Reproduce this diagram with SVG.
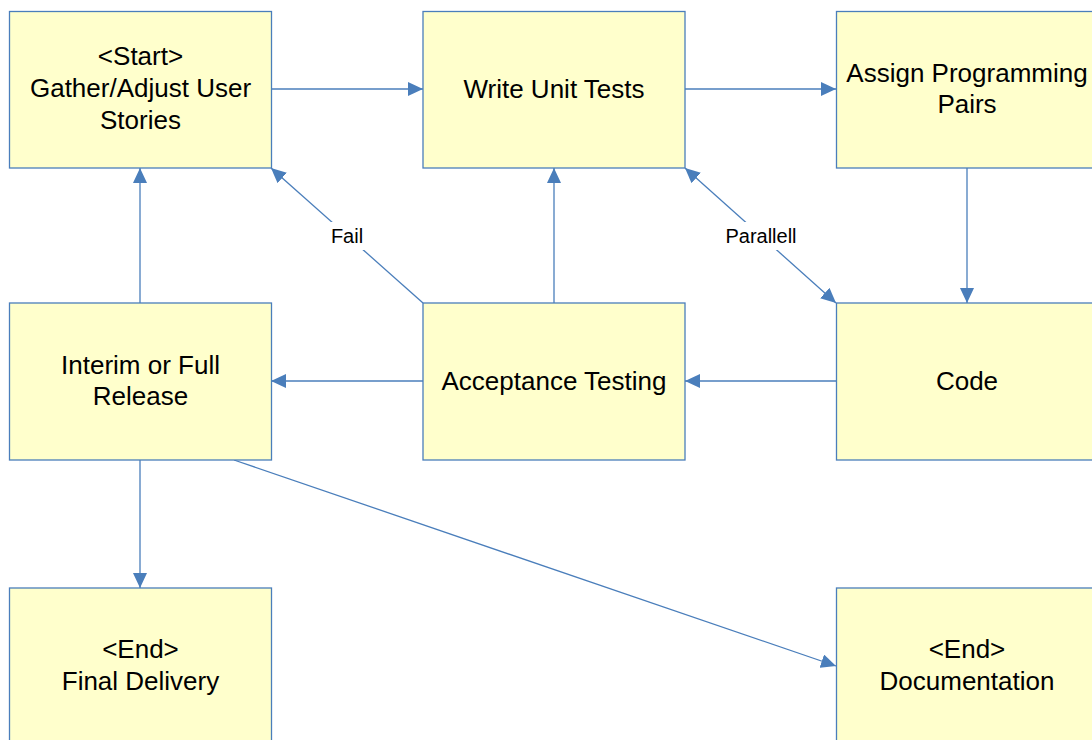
<svg xmlns="http://www.w3.org/2000/svg" width="1092" height="740" viewBox="0 0 1092 740">
  <style>
    .box { fill: #FFFFCC; stroke: #4A7EBB; stroke-width: 1.3; }
    .t { font-family: "Liberation Sans", Arial, sans-serif; font-size: 26px; fill: #000; text-anchor: middle; }
    .lbl { font-family: "Liberation Sans", Arial, sans-serif; font-size: 20px; fill: #000; text-anchor: middle; }
    .edge { stroke: #4A7EBB; stroke-width: 1.3; fill: none; }
  </style>
  <defs>
    <marker id="arrow" markerUnits="userSpaceOnUse" markerWidth="16" markerHeight="14" refX="15" refY="7" orient="auto-start-reverse">
      <path d="M0,0 L15,7 L0,14 Z" fill="#4A7EBB"/>
    </marker>
  </defs>

  <rect width="1092" height="740" fill="#FFFFFF"/>

  <g id="connectors">
    <line class="edge" x1="271" y1="89" x2="423" y2="89" marker-end="url(#arrow)"/>
    <line class="edge" x1="685" y1="89" x2="836" y2="89" marker-end="url(#arrow)"/>
    <line class="edge" x1="967" y1="168" x2="967" y2="303" marker-end="url(#arrow)"/>
    <line class="edge" x1="836" y1="381" x2="685" y2="381" marker-end="url(#arrow)"/>
    <line class="edge" x1="423" y1="381" x2="271" y2="381" marker-end="url(#arrow)"/>
    <line class="edge" x1="554" y1="303" x2="554" y2="168" marker-end="url(#arrow)"/>
    <line class="edge" x1="140" y1="303" x2="140" y2="168" marker-end="url(#arrow)"/>
    <line class="edge" x1="140" y1="460" x2="140" y2="588" marker-end="url(#arrow)"/>
    <line class="edge" x1="234" y1="460" x2="836" y2="666" marker-end="url(#arrow)"/>
    <!-- Fail: acceptance back to start -->
    <line class="edge" x1="423" y1="303" x2="271" y2="168" marker-end="url(#arrow)"/>
    <rect x="326" y="222" width="44" height="28" fill="#FFFFFF"/>
    <text class="lbl" x="347" y="243">Fail</text>
    <!-- Parallell: unit tests and code -->
    <line class="edge" x1="685" y1="168" x2="836" y2="303" marker-start="url(#arrow)" marker-end="url(#arrow)"/>
    <rect x="719" y="222" width="84" height="28" fill="#FFFFFF"/>
    <text class="lbl" x="761" y="243">Parallell</text>
  </g>

  <g id="start">
    <rect class="box" x="9.5" y="11.5" width="262" height="156.5"/>
    <text class="t" x="140.5" y="65">&lt;Start&gt;</text>
    <text class="t" x="140.5" y="97">Gather/Adjust User</text>
    <text class="t" x="140.5" y="129">Stories</text>
  </g>

  <g id="unit-tests">
    <rect class="box" x="423" y="11.5" width="262" height="156.5"/>
    <text class="t" x="554" y="98">Write Unit Tests</text>
  </g>

  <g id="pairs">
    <rect class="box" x="836.5" y="11.5" width="262" height="156.5"/>
    <text class="t" x="967" y="82">Assign Programming</text>
    <text class="t" x="967" y="113">Pairs</text>
  </g>

  <g id="release">
    <rect class="box" x="9.5" y="303" width="262" height="157"/>
    <text class="t" x="140.5" y="374">Interim or Full</text>
    <text class="t" x="140.5" y="405">Release</text>
  </g>

  <g id="acceptance">
    <rect class="box" x="423" y="303" width="262" height="157"/>
    <text class="t" x="554" y="390">Acceptance Testing</text>
  </g>

  <g id="code">
    <rect class="box" x="836.5" y="303" width="262" height="157"/>
    <text class="t" x="967" y="390">Code</text>
  </g>

  <g id="final-delivery">
    <rect class="box" x="9.5" y="588" width="262" height="157"/>
    <text class="t" x="140.5" y="658">&lt;End&gt;</text>
    <text class="t" x="140.5" y="690">Final Delivery</text>
  </g>

  <g id="documentation">
    <rect class="box" x="836.5" y="588" width="262" height="157"/>
    <text class="t" x="967" y="658">&lt;End&gt;</text>
    <text class="t" x="967" y="690">Documentation</text>
  </g>
</svg>
